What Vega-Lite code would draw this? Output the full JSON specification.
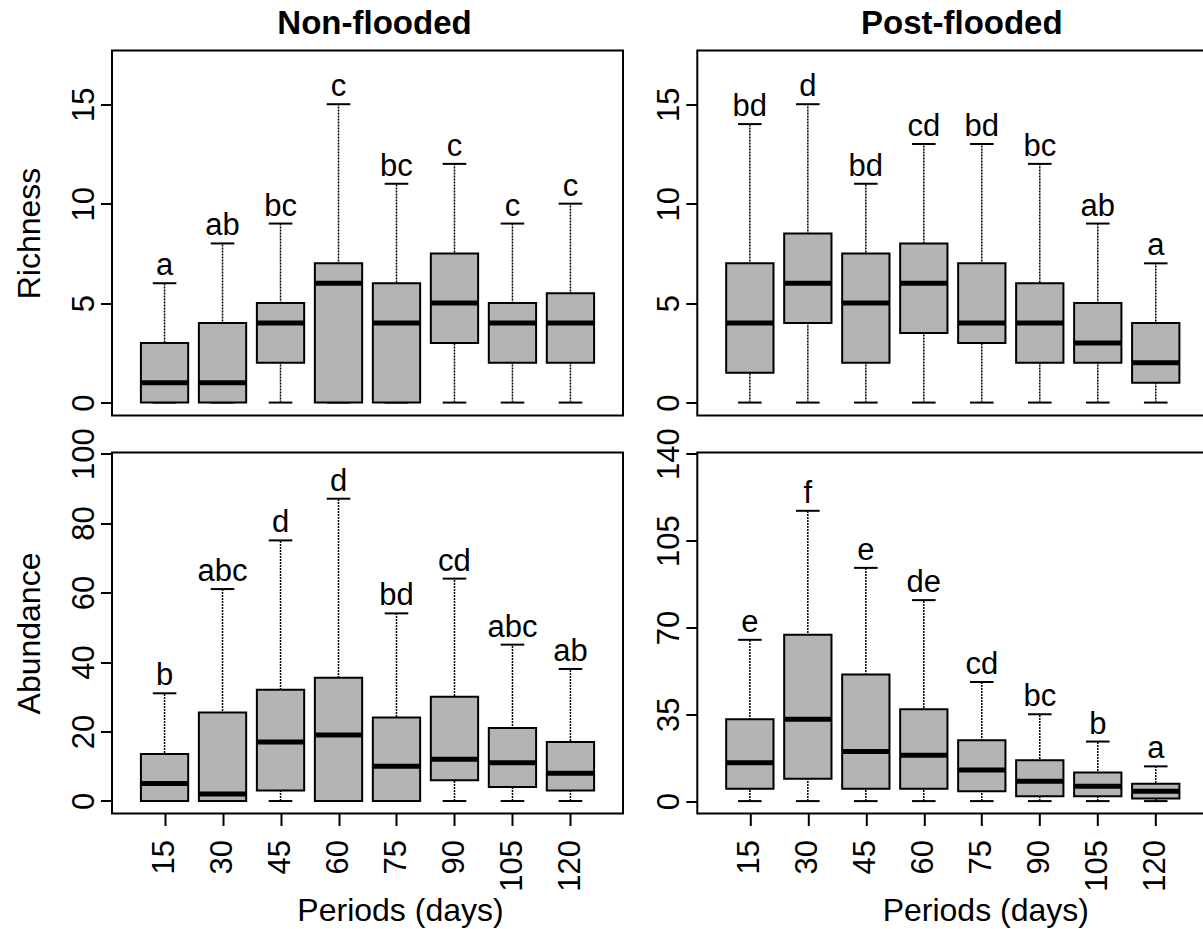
{
  "$schema": "https://vega.github.io/schema/vega-lite/v6.json",
  "background": "white",
  "padding": {"left": 12, "top": 6.5, "right": 0, "bottom": 0},
  "datasets": {
    "A": [
      {"period": 15, "min": 0, "q1": 0, "median": 1, "q3": 3, "max": 6, "label": "a"},
      {"period": 30, "min": 0, "q1": 0, "median": 1, "q3": 4, "max": 8, "label": "ab"},
      {"period": 45, "min": 0, "q1": 2, "median": 4, "q3": 5, "max": 9, "label": "bc"},
      {"period": 60, "min": 0, "q1": 0, "median": 6, "q3": 7, "max": 15, "label": "c"},
      {"period": 75, "min": 0, "q1": 0, "median": 4, "q3": 6, "max": 11, "label": "bc"},
      {"period": 90, "min": 0, "q1": 3, "median": 5, "q3": 7.5, "max": 12, "label": "c"},
      {"period": 105, "min": 0, "q1": 2, "median": 4, "q3": 5, "max": 9, "label": "c"},
      {"period": 120, "min": 0, "q1": 2, "median": 4, "q3": 5.5, "max": 10, "label": "c"}
    ],
    "B": [
      {"period": 15, "min": 0, "q1": 1.5, "median": 4, "q3": 7, "max": 14, "label": "bd"},
      {"period": 30, "min": 0, "q1": 4, "median": 6, "q3": 8.5, "max": 15, "label": "d"},
      {"period": 45, "min": 0, "q1": 2, "median": 5, "q3": 7.5, "max": 11, "label": "bd"},
      {"period": 60, "min": 0, "q1": 3.5, "median": 6, "q3": 8, "max": 13, "label": "cd"},
      {"period": 75, "min": 0, "q1": 3, "median": 4, "q3": 7, "max": 13, "label": "bd"},
      {"period": 90, "min": 0, "q1": 2, "median": 4, "q3": 6, "max": 12, "label": "bc"},
      {"period": 105, "min": 0, "q1": 2, "median": 3, "q3": 5, "max": 9, "label": "ab"},
      {"period": 120, "min": 0, "q1": 1, "median": 2, "q3": 4, "max": 7, "label": "a"}
    ],
    "C": [
      {"period": 15, "min": 0, "q1": 0, "median": 5, "q3": 13.5, "max": 31, "label": "b"},
      {"period": 30, "min": 0, "q1": 0, "median": 2, "q3": 25.5, "max": 61, "label": "abc"},
      {"period": 45, "min": 0, "q1": 3, "median": 17, "q3": 32, "max": 75, "label": "d"},
      {"period": 60, "min": 0, "q1": 0, "median": 19, "q3": 35.5, "max": 87, "label": "d"},
      {"period": 75, "min": 0, "q1": 0, "median": 10, "q3": 24, "max": 54, "label": "bd"},
      {"period": 90, "min": 0, "q1": 6, "median": 12, "q3": 30, "max": 64, "label": "cd"},
      {"period": 105, "min": 0, "q1": 4, "median": 11, "q3": 21, "max": 45, "label": "abc"},
      {"period": 120, "min": 0, "q1": 3, "median": 8, "q3": 17, "max": 38, "label": "ab"}
    ],
    "D": [
      {"period": 15, "min": 0, "q1": 5, "median": 15.5, "q3": 33, "max": 65, "label": "e"},
      {"period": 30, "min": 0, "q1": 9, "median": 33, "q3": 67, "max": 117, "label": "f"},
      {"period": 45, "min": 0, "q1": 5, "median": 20, "q3": 51, "max": 94, "label": "e"},
      {"period": 60, "min": 0, "q1": 5, "median": 18.5, "q3": 37, "max": 81, "label": "de"},
      {"period": 75, "min": 0, "q1": 4, "median": 12.5, "q3": 24.5, "max": 48, "label": "cd"},
      {"period": 90, "min": 0, "q1": 2, "median": 8, "q3": 16.5, "max": 35, "label": "bc"},
      {"period": 105, "min": 0, "q1": 2, "median": 6, "q3": 11.5, "max": 24, "label": "b"},
      {"period": 120, "min": 0, "q1": 1, "median": 4, "q3": 7, "max": 14, "label": "a"}
    ]
  },
  "concat": [
    {
      "width": 511, "height": 365,
      "title": {"text": "Non-flooded", "font": "Liberation Sans", "fontSize": 33, "fontWeight": "bold", "color": "black", "anchor": "middle", "frame": "group", "baseline": "alphabetic", "offset": -16, "dx": 7},
      "data": {"name": "A"},
      "encoding": {"x": {"field": "period", "type": "quantitative", "scale": {"domain": [2.7, 132.3], "nice": false, "zero": false}, "axis": null}},
      "layer": [
        {"mark": {"type": "rule", "strokeDash": [2, 1], "strokeWidth": 1.5, "color": "black"},
         "encoding": {"y": {"field": "min", "type": "quantitative", "scale": {"domain": [-0.65, 17.7], "nice": false, "zero": false},
           "axis": {"values": [0, 5, 10, 15], "title": "Richness", "titleAngle": 270, "titleX": -73, "titleY": 182.5, "titleAlign": "center", "titleBaseline": "alphabetic"}},
           "y2": {"field": "max"}}},
        {"mark": {"type": "tick", "orient": "horizontal", "size": 23.6, "thickness": 2, "color": "black", "opacity": 1}, "encoding": {"y": {"field": "max", "type": "quantitative"}}},
        {"mark": {"type": "tick", "orient": "horizontal", "size": 23.6, "thickness": 2, "color": "black", "opacity": 1}, "encoding": {"y": {"field": "min", "type": "quantitative"}}},
        {"mark": {"type": "bar", "width": 47.3, "fill": "#b3b5b5", "stroke": "black", "strokeWidth": 2, "opacity": 1}, "encoding": {"y": {"field": "q1", "type": "quantitative"}, "y2": {"field": "q3"}}},
        {"mark": {"type": "tick", "orient": "horizontal", "size": 47.3, "thickness": 5, "color": "black", "opacity": 1}, "encoding": {"y": {"field": "median", "type": "quantitative"}}},
        {"mark": {"type": "text", "dy": -8, "baseline": "alphabetic", "align": "center", "fontSize": 31, "font": "Liberation Sans", "color": "black"}, "encoding": {"y": {"field": "max", "type": "quantitative"}, "text": {"field": "label"}}},
        {"data": {"values": [{"tag": "A"}]}, "mark": {"type": "point", "shape": "circle", "size": 1681, "filled": false, "stroke": "black", "strokeWidth": 1.6, "opacity": 1},
         "encoding": {"x": {"datum": 123.6}, "y": {"datum": 16.13}}},
        {"data": {"values": [{"tag": "A"}]}, "mark": {"type": "text", "fontSize": 31, "font": "Liberation Sans", "align": "center", "baseline": "middle", "dy": 1, "color": "black"},
         "encoding": {"x": {"datum": 123.6}, "y": {"datum": 16.13}, "text": {"field": "tag"}}}
      ]
    },
    {
      "width": 511, "height": 365,
      "title": {"text": "Post-flooded", "font": "Liberation Sans", "fontSize": 33, "fontWeight": "bold", "color": "black", "anchor": "middle", "frame": "group", "baseline": "alphabetic", "offset": -16, "dx": 9},
      "data": {"name": "B"},
      "encoding": {"x": {"field": "period", "type": "quantitative", "scale": {"domain": [2.7, 132.3], "nice": false, "zero": false}, "axis": null}},
      "layer": [
        {"mark": {"type": "rule", "strokeDash": [2, 1], "strokeWidth": 1.5, "color": "black"},
         "encoding": {"y": {"field": "min", "type": "quantitative", "scale": {"domain": [-0.65, 17.7], "nice": false, "zero": false},
           "axis": {"values": [0, 5, 10, 15], "title": null}},
           "y2": {"field": "max"}}},
        {"mark": {"type": "tick", "orient": "horizontal", "size": 23.6, "thickness": 2, "color": "black", "opacity": 1}, "encoding": {"y": {"field": "max", "type": "quantitative"}}},
        {"mark": {"type": "tick", "orient": "horizontal", "size": 23.6, "thickness": 2, "color": "black", "opacity": 1}, "encoding": {"y": {"field": "min", "type": "quantitative"}}},
        {"mark": {"type": "bar", "width": 47.3, "fill": "#b3b5b5", "stroke": "black", "strokeWidth": 2, "opacity": 1}, "encoding": {"y": {"field": "q1", "type": "quantitative"}, "y2": {"field": "q3"}}},
        {"mark": {"type": "tick", "orient": "horizontal", "size": 47.3, "thickness": 5, "color": "black", "opacity": 1}, "encoding": {"y": {"field": "median", "type": "quantitative"}}},
        {"mark": {"type": "text", "dy": -8, "baseline": "alphabetic", "align": "center", "fontSize": 31, "font": "Liberation Sans", "color": "black"}, "encoding": {"y": {"field": "max", "type": "quantitative"}, "text": {"field": "label"}}},
        {"data": {"values": [{"tag": "B"}]}, "mark": {"type": "point", "shape": "circle", "size": 1681, "filled": false, "stroke": "black", "strokeWidth": 1.6, "opacity": 1},
         "encoding": {"x": {"datum": 123.6}, "y": {"datum": 16.13}}},
        {"data": {"values": [{"tag": "B"}]}, "mark": {"type": "text", "fontSize": 31, "font": "Liberation Sans", "align": "center", "baseline": "middle", "dy": 1, "color": "black"},
         "encoding": {"x": {"datum": 123.6}, "y": {"datum": 16.13}, "text": {"field": "tag"}}}
      ]
    },
    {
      "width": 511, "height": 361,
      "data": {"name": "C"},
      "encoding": {"x": {"field": "period", "type": "quantitative", "scale": {"domain": [2.7, 132.3], "nice": false, "zero": false},
        "axis": {"values": [15, 30, 45, 60, 75, 90, 105, 120], "title": "Periods (days)", "titleX": 288, "titleY": 107, "titleAlign": "center", "titleBaseline": "alphabetic"}}},
      "layer": [
        {"mark": {"type": "rule", "strokeDash": [2, 1], "strokeWidth": 1.5, "color": "black"},
         "encoding": {"y": {"field": "min", "type": "quantitative", "scale": {"domain": [-3.6, 100.3], "nice": false, "zero": false},
           "axis": {"values": [0, 20, 40, 60, 80, 100], "title": "Abundance", "titleAngle": 270, "titleX": -73, "titleY": 180.5, "titleAlign": "center", "titleBaseline": "alphabetic"}},
           "y2": {"field": "max"}}},
        {"mark": {"type": "tick", "orient": "horizontal", "size": 23.6, "thickness": 2, "color": "black", "opacity": 1}, "encoding": {"y": {"field": "max", "type": "quantitative"}}},
        {"mark": {"type": "tick", "orient": "horizontal", "size": 23.6, "thickness": 2, "color": "black", "opacity": 1}, "encoding": {"y": {"field": "min", "type": "quantitative"}}},
        {"mark": {"type": "bar", "width": 47.3, "fill": "#b3b5b5", "stroke": "black", "strokeWidth": 2, "opacity": 1}, "encoding": {"y": {"field": "q1", "type": "quantitative"}, "y2": {"field": "q3"}}},
        {"mark": {"type": "tick", "orient": "horizontal", "size": 47.3, "thickness": 5, "color": "black", "opacity": 1}, "encoding": {"y": {"field": "median", "type": "quantitative"}}},
        {"mark": {"type": "text", "dy": -8, "baseline": "alphabetic", "align": "center", "fontSize": 31, "font": "Liberation Sans", "color": "black"}, "encoding": {"y": {"field": "max", "type": "quantitative"}, "text": {"field": "label"}}},
        {"data": {"values": [{"tag": "C"}]}, "mark": {"type": "point", "shape": "circle", "size": 1681, "filled": false, "stroke": "black", "strokeWidth": 1.6, "opacity": 1},
         "encoding": {"x": {"datum": 123.6}, "y": {"datum": 91.2}}},
        {"data": {"values": [{"tag": "C"}]}, "mark": {"type": "text", "fontSize": 31, "font": "Liberation Sans", "align": "center", "baseline": "middle", "dy": 1, "color": "black"},
         "encoding": {"x": {"datum": 123.6}, "y": {"datum": 91.2}, "text": {"field": "tag"}}}
      ]
    },
    {
      "width": 511, "height": 361,
      "data": {"name": "D"},
      "encoding": {"x": {"field": "period", "type": "quantitative", "scale": {"domain": [2.7, 132.3], "nice": false, "zero": false},
        "axis": {"values": [15, 30, 45, 60, 75, 90, 105, 120], "title": "Periods (days)", "titleX": 288, "titleY": 107, "titleAlign": "center", "titleBaseline": "alphabetic"}}},
      "layer": [
        {"mark": {"type": "rule", "strokeDash": [2, 1], "strokeWidth": 1.5, "color": "black"},
         "encoding": {"y": {"field": "min", "type": "quantitative", "scale": {"domain": [-5.0, 140.5], "nice": false, "zero": false},
           "axis": {"values": [0, 35, 70, 105, 140], "title": null}},
           "y2": {"field": "max"}}},
        {"mark": {"type": "tick", "orient": "horizontal", "size": 23.6, "thickness": 2, "color": "black", "opacity": 1}, "encoding": {"y": {"field": "max", "type": "quantitative"}}},
        {"mark": {"type": "tick", "orient": "horizontal", "size": 23.6, "thickness": 2, "color": "black", "opacity": 1}, "encoding": {"y": {"field": "min", "type": "quantitative"}}},
        {"mark": {"type": "bar", "width": 47.3, "fill": "#b3b5b5", "stroke": "black", "strokeWidth": 2, "opacity": 1}, "encoding": {"y": {"field": "q1", "type": "quantitative"}, "y2": {"field": "q3"}}},
        {"mark": {"type": "tick", "orient": "horizontal", "size": 47.3, "thickness": 5, "color": "black", "opacity": 1}, "encoding": {"y": {"field": "median", "type": "quantitative"}}},
        {"mark": {"type": "text", "dy": -8, "baseline": "alphabetic", "align": "center", "fontSize": 31, "font": "Liberation Sans", "color": "black"}, "encoding": {"y": {"field": "max", "type": "quantitative"}, "text": {"field": "label"}}},
        {"data": {"values": [{"tag": "D"}]}, "mark": {"type": "point", "shape": "circle", "size": 1681, "filled": false, "stroke": "black", "strokeWidth": 1.6, "opacity": 1},
         "encoding": {"x": {"datum": 123.6}, "y": {"datum": 127.7}}},
        {"data": {"values": [{"tag": "D"}]}, "mark": {"type": "text", "fontSize": 31, "font": "Liberation Sans", "align": "center", "baseline": "middle", "dy": 1, "color": "black"},
         "encoding": {"x": {"datum": 123.6}, "y": {"datum": 127.7}, "text": {"field": "tag"}}}
      ]
    }
  ],
  "columns": 2,
  "spacing": {"row": 37, "column": 74.3},
  "bounds": "flush",
  "config": {
    "view": {"stroke": "black", "strokeWidth": 2},
    "font": "Liberation Sans",
    "axis": {"domain": false, "grid": false, "ticks": true, "tickColor": "black", "tickWidth": 2, "tickSize": 11.5,
      "labelFont": "Liberation Sans", "labelFontSize": 31, "labelColor": "black", "labelPadding": 7, "labelOverlap": false, "labelFlush": false, "labelBound": false,
      "titleFont": "Liberation Sans", "titleFontSize": 32, "titleFontWeight": "normal", "titleColor": "black"},
    "axisY": {"labelAngle": 270, "labelAlign": "center", "labelBaseline": "alphabetic"},
    "axisX": {"labelAngle": 270, "labelAlign": "right", "labelBaseline": "middle", "labelPadding": 14, "tickSize": 12}
  }
}
